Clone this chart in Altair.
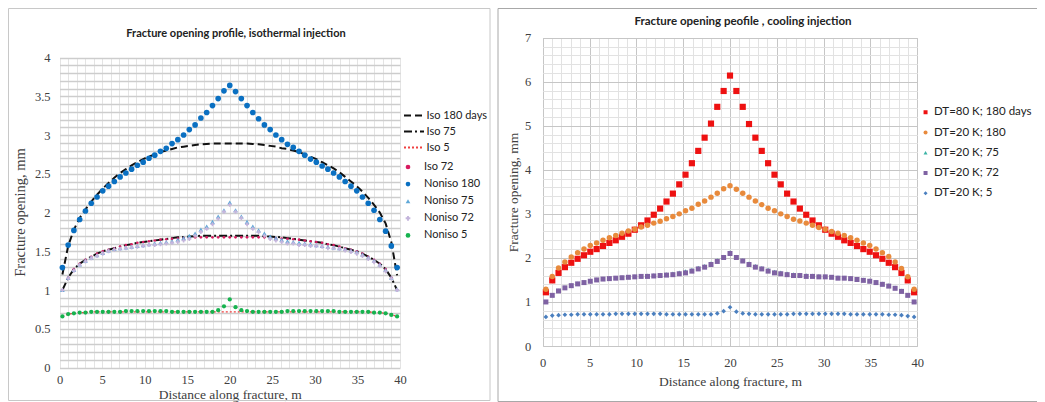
import altair as alt
import pandas as pd

# ---------------- data ----------------
# positions of the 59 cells along the fracture (m)
x_pos = [0.34, 1.02, 1.69, 2.37, 3.05, 3.73, 4.41, 5.08, 5.76, 6.44,
         7.12, 7.80, 8.47, 9.15, 9.83, 10.51, 11.19, 11.86, 12.54, 13.22,
         13.90, 14.58, 15.25, 15.93, 16.61, 17.29, 17.97, 18.64, 19.32, 20.00,
         20.68, 21.36, 22.03, 22.71, 23.39, 24.07, 24.75, 25.42, 26.10, 26.78,
         27.46, 28.14, 28.81, 29.49, 30.17, 30.85, 31.53, 32.20, 32.88, 33.56,
         34.24, 34.92, 35.59, 36.27, 36.95, 37.63, 38.31, 38.98, 39.66]

iso_180 = [1.20, 1.57, 1.78, 1.93, 2.04, 2.14, 2.23, 2.31, 2.38, 2.45,
           2.51, 2.56, 2.61, 2.65, 2.69, 2.72, 2.75, 2.78, 2.80, 2.82,
           2.84, 2.85, 2.86, 2.87, 2.88, 2.885, 2.89, 2.89, 2.89, 2.89,
           2.89, 2.89, 2.89, 2.885, 2.88, 2.87, 2.86, 2.85, 2.83, 2.82,
           2.80, 2.78, 2.75, 2.72, 2.69, 2.65, 2.61, 2.57, 2.52, 2.46,
           2.40, 2.34, 2.27, 2.19, 2.10, 2.00, 1.86, 1.62, 1.19]

iso_75 = [1.00, 1.16, 1.27, 1.34, 1.39, 1.43, 1.47, 1.50, 1.52, 1.54,
          1.56, 1.58, 1.59, 1.61, 1.62, 1.63, 1.64, 1.65, 1.66, 1.67,
          1.68, 1.685, 1.69, 1.695, 1.70, 1.70, 1.70, 1.70, 1.70, 1.70,
          1.70, 1.70, 1.70, 1.70, 1.70, 1.695, 1.69, 1.685, 1.68, 1.67,
          1.66, 1.65, 1.64, 1.63, 1.62, 1.61, 1.59, 1.58, 1.56, 1.54,
          1.52, 1.50, 1.47, 1.43, 1.39, 1.34, 1.27, 1.16, 1.00]

iso_5 = [0.66, 0.69, 0.70, 0.71, 0.71, 0.72, 0.72, 0.72, 0.72, 0.72,
         0.72, 0.72, 0.72, 0.72, 0.72, 0.72, 0.72, 0.72, 0.72, 0.72,
         0.72, 0.72, 0.72, 0.72, 0.72, 0.72, 0.72, 0.72, 0.72, 0.72,
         0.72, 0.72, 0.72, 0.72, 0.72, 0.72, 0.72, 0.72, 0.72, 0.72,
         0.72, 0.72, 0.72, 0.72, 0.72, 0.72, 0.72, 0.72, 0.72, 0.72,
         0.72, 0.72, 0.72, 0.72, 0.71, 0.71, 0.70, 0.68, 0.66]

iso_72 = [1.00, 1.16, 1.27, 1.34, 1.39, 1.43, 1.47, 1.50, 1.52, 1.54,
          1.56, 1.58, 1.59, 1.61, 1.62, 1.63, 1.64, 1.65, 1.655, 1.66,
          1.665, 1.67, 1.675, 1.68, 1.68, 1.68, 1.68, 1.68, 1.68, 1.68,
          1.68, 1.68, 1.68, 1.68, 1.68, 1.68, 1.675, 1.67, 1.665, 1.66,
          1.655, 1.65, 1.64, 1.63, 1.62, 1.61, 1.59, 1.58, 1.56, 1.54,
          1.52, 1.50, 1.47, 1.43, 1.39, 1.34, 1.27, 1.16, 1.00]

# non-isothermal / cooling (DT = 20 K) runs, shared by both panels
dt20_180 = [1.29, 1.58, 1.77, 1.91, 2.02, 2.12, 2.20, 2.28, 2.34, 2.40,
            2.46, 2.51, 2.56, 2.61, 2.65, 2.70, 2.74, 2.79, 2.83, 2.89,
            2.94, 3.00, 3.07, 3.13, 3.22, 3.29, 3.38, 3.47, 3.57, 3.64,
            3.56, 3.47, 3.38, 3.29, 3.21, 3.13, 3.07, 3.00, 2.94, 2.88,
            2.84, 2.79, 2.74, 2.69, 2.65, 2.60, 2.56, 2.51, 2.46, 2.40,
            2.34, 2.28, 2.20, 2.12, 2.03, 1.91, 1.76, 1.57, 1.29]

dt20_75 = [1.00, 1.16, 1.26, 1.33, 1.38, 1.42, 1.45, 1.48, 1.51, 1.53,
           1.54, 1.55, 1.56, 1.57, 1.58, 1.59, 1.60, 1.61, 1.62, 1.63,
           1.65, 1.67, 1.70, 1.73, 1.78, 1.82, 1.88, 1.95, 2.03, 2.13,
           2.03, 1.95, 1.88, 1.82, 1.77, 1.73, 1.69, 1.67, 1.65, 1.63,
           1.62, 1.61, 1.60, 1.59, 1.58, 1.57, 1.56, 1.55, 1.54, 1.53,
           1.51, 1.49, 1.46, 1.42, 1.38, 1.33, 1.26, 1.16, 1.01]

dt20_72 = [1.00, 1.15, 1.25, 1.32, 1.37, 1.41, 1.44, 1.47, 1.50, 1.52,
           1.53, 1.54, 1.55, 1.56, 1.57, 1.58, 1.58, 1.59, 1.60, 1.61,
           1.62, 1.64, 1.66, 1.70, 1.75, 1.79, 1.85, 1.92, 2.01, 2.10,
           2.01, 1.93, 1.85, 1.79, 1.75, 1.70, 1.66, 1.64, 1.62, 1.60,
           1.60, 1.58, 1.58, 1.57, 1.57, 1.56, 1.54, 1.54, 1.53, 1.51,
           1.49, 1.47, 1.44, 1.40, 1.36, 1.31, 1.24, 1.15, 1.00]

dt20_5 = [0.66, 0.69, 0.70, 0.71, 0.71, 0.72, 0.72, 0.72, 0.72, 0.72,
          0.72, 0.73, 0.73, 0.73, 0.73, 0.73, 0.73, 0.73, 0.73, 0.72,
          0.72, 0.72, 0.72, 0.72, 0.72, 0.72, 0.72, 0.74, 0.79, 0.88,
          0.78, 0.74, 0.73, 0.72, 0.72, 0.72, 0.72, 0.72, 0.72, 0.73,
          0.73, 0.73, 0.73, 0.73, 0.73, 0.73, 0.73, 0.73, 0.72, 0.72,
          0.72, 0.72, 0.72, 0.72, 0.71, 0.71, 0.70, 0.68, 0.66]

dt80_180 = [1.22, 1.49, 1.66, 1.79, 1.89, 1.98, 2.06, 2.14, 2.20, 2.27,
            2.34, 2.40, 2.48, 2.55, 2.64, 2.74, 2.85, 2.98, 3.12, 3.28,
            3.46, 3.67, 3.89, 4.15, 4.43, 4.73, 5.05, 5.43, 5.79, 6.14,
            5.79, 5.43, 5.04, 4.73, 4.43, 4.15, 3.89, 3.67, 3.46, 3.28,
            3.12, 2.98, 2.85, 2.74, 2.64, 2.55, 2.48, 2.40, 2.34, 2.27,
            2.20, 2.14, 2.06, 1.98, 1.89, 1.79, 1.66, 1.49, 1.22]

left_line_names = ["Iso 180 days", "Iso 75", "Iso 5"]
left_point_names = ["Iso 72", "Noniso 180", "Noniso 75", "Noniso 72", "Noniso 5"]
right_names = ["DT=80 K; 180 days", "DT=20 K; 180", "DT=20 K; 75", "DT=20 K; 72", "DT=20 K; 5"]

titles = ["Fracture opening profile, isothermal injection",
          "Fracture  opening peofile , cooling injection"]
x_title = "Distance along fracture, m"
y_title = "Fracture opening, mm"


def long_table(names, arrays):
    rows = []
    for k, (name, arr) in enumerate(zip(names, arrays)):
        assert len(arr) == len(x_pos)
        for xv, yv in zip(x_pos, arr):
            rows.append({"x": xv, "v": yv, "s": name, "o": k})
    return pd.DataFrame(rows)


ll_df = long_table(left_line_names, [iso_180, iso_75, iso_5])
lp_df = long_table(left_point_names, [iso_72, dt20_180, dt20_75, dt20_72, dt20_5])
r_df = long_table(right_names, [dt80_180, dt20_180, dt20_75, dt20_72, dt20_5])

# ---------------- layout (view coordinates) ----------------
W, H = 1029, 394
LX = [51.5, 392.0]
LY = [359.6, 49.5]
RX = [534.7, 909.3]
RY = [338.0, 29.7]

serif = "Liberation Serif"
sans = "Lato"
lab_col = "#404040"

x_ticks = list(range(41))
ly_ticks = [round(0.1 * i, 1) for i in range(41)]
ry_ticks = [round(0.2 * i, 1) for i in range(36)]


def sx(rng):
    return alt.Scale(domain=[0, 40], range=rng, nice=False, zero=False)


def sy(top, rng):
    return alt.Scale(domain=[0, top], range=rng, nice=False, zero=True)


def per_series(names, values, default):
    """Constant per-series style via a chain of conditions."""
    conds = [{"test": "datum.s === '%s'" % n, "value": v} for n, v in zip(names, values)]
    return {"condition": conds, "value": default}


def grid_x(color):
    return alt.Axis(orient="top", values=x_ticks, grid=True, gridColor=color, gridWidth=1,
                    labels=False, ticks=False, domain=False, title=None)


def label_x(offset, size, pad, title_y, cx):
    return alt.Axis(orient="bottom", offset=offset, values=x_ticks, grid=False,
                    ticks=False, tickSize=0, domain=False, labelOverlap=False, labelFlush=False,
                    labelExpr="datum.value % 5 === 0 ? format(datum.value, 'd') : ''",
                    labelFont=serif, labelFontSize=12.5, labelColor=lab_col, labelPadding=pad,
                    title=x_title, titleFont=serif, titleFontSize=size, titleFontWeight="normal",
                    titleColor=lab_col, titleX=cx, titleY=title_y,
                    titleAlign="center", titleBaseline="middle")


left_y_axis = alt.Axis(
    orient="left", offset=-LX[0], values=ly_ticks, grid=True, gridColor="#cdcdcd", gridWidth=1.3,
    ticks=False, tickSize=0, domain=False, labelOverlap=False, labelFlush=False,
    labelExpr="abs(datum.value*2 - round(datum.value*2)) < 0.01 ? format(datum.value, '.1~f') : ''",
    labelFont=serif, labelFontSize=12.5, labelColor=lab_col, labelPadding=9.5,
    title=y_title, titleFont=serif, titleFontSize=14.5, titleFontWeight="normal", titleColor=lab_col,
    titleX=12 - LX[0], titleY=204, titleAngle=270, titleAlign="center", titleBaseline="middle")

right_y_axis = alt.Axis(
    orient="left", offset=-RX[0], values=ry_ticks, grid=True,
    gridColor={"condition": {"test": "abs(datum.value - round(datum.value)) < 0.01", "value": "#c6c6c6"},
               "value": "#e2e2e2"},
    gridWidth=1,
    ticks=False, tickSize=0, domain=False, labelOverlap=False, labelFlush=False,
    labelExpr="abs(datum.value - round(datum.value)) < 0.01 ? format(datum.value, 'd') : ''",
    labelFont=serif, labelFontSize=12.5, labelColor=lab_col, labelPadding=12,
    title=y_title, titleFont=serif, titleFontSize=13.5, titleFontWeight="normal", titleColor=lab_col,
    titleX=505 - RX[0], titleY=184, titleAngle=270, titleAlign="center", titleBaseline="middle")

right_grid_x = alt.Axis(
    orient="top", values=x_ticks, grid=True,
    gridColor={"condition": {"test": "datum.value % 5 === 0", "value": "#c6c6c6"}, "value": "#e2e2e2"},
    gridWidth=1, labels=False, ticks=False, domain=False, title=None)

leg_lines = alt.Legend(orient="none", legendX=395, legendY=96.5, title=None, padding=0,
                       labelFont=sans, labelFontSize=11, labelColor="#222222",
                       symbolType="stroke", symbolSize=400, symbolStrokeWidth=2,
                       labelOffset=1.5, rowPadding=-0.5)
leg_pts = alt.Legend(orient="none", legendX=394.5, legendY=153.5, title=None, padding=0,
                     labelFont=sans, labelFontSize=11, labelColor="#222222",
                     symbolSize=22, labelOffset=10.5, rowPadding=5.1)
leg_right = alt.Legend(orient="none", legendX=911.8, legendY=98.5, title=None, padding=0,
                       labelFont=sans, labelFontSize=11.5, labelColor="#222222",
                       symbolSize=16, labelOffset=2.7, rowPadding=7.25)

one = pd.DataFrame({"k": [0]})

frame_l = alt.Chart(one).mark_rect(fillOpacity=0, stroke="#c8c8c8", strokeWidth=1).encode(
    x=alt.value(0.5), x2=alt.value(482), y=alt.value(0.5), y2=alt.value(H - 1.5))
frame_r = alt.Chart(one).mark_rect(fillOpacity=0, stroke="#a8a8a8", strokeWidth=1).encode(
    x=alt.value(490), x2=alt.value(1040), y=alt.value(0.5), y2=alt.value(H - 0.5))

left_lines = alt.Chart(ll_df).mark_line().encode(
    x=alt.X("x:Q", scale=sx(LX), axis=grid_x("#e4e4e4")),
    y=alt.Y("v:Q", scale=sy(4, LY), axis=left_y_axis),
    color=alt.Color("s:N", scale=alt.Scale(domain=left_line_names,
                                           range=["#111111", "#111111", "#f04040"]),
                    legend=leg_lines),
    strokeDash=alt.StrokeDash("s:N", scale=alt.Scale(domain=left_line_names,
                                                     range=[[7, 4], [8, 3, 2, 3], [2, 2]]),
                              legend=leg_lines),
    strokeWidth=per_series(["Iso 5"], [1.3], 2),
)

left_pts = alt.Chart(lp_df).mark_point(filled=True, opacity=1).encode(
    x=alt.X("x:Q", scale=sx(LX), axis=label_x(LY[0] - H, 13.5, 5.5, 26.5, (LX[0] + LX[1]) / 2)),
    y=alt.Y("v:Q", scale=sy(4, LY), axis=None),
    color=alt.Color("s:N", scale=alt.Scale(domain=left_point_names,
                                           range=["#d81b60", "#0a70c2", "#5fa8d8", "#c4b5dc", "#16b34f"]),
                    legend=leg_pts),
    shape=alt.Shape("s:N", scale=alt.Scale(domain=left_point_names,
                                           range=["circle", "circle", "triangle-up", "cross", "circle"]),
                    legend=leg_pts),
    size=per_series(left_point_names, [7, 32, 22, 16, 18], 20),
)

right_pts = alt.Chart(r_df).mark_point(filled=True, opacity=1).encode(
    x=alt.X("x:Q", scale=sx(RX), axis=right_grid_x),
    y=alt.Y("v:Q", scale=sy(7, RY), axis=right_y_axis),
    color=alt.Color("s:N", scale=alt.Scale(domain=right_names,
                                           range=["#ee1111", "#e88a3c", "#3cb4a6", "#7f62a3", "#4a7fbf"]),
                    legend=leg_right),
    shape=alt.Shape("s:N", scale=alt.Scale(domain=right_names,
                                           range=["square", "circle", "triangle-up", "square", "diamond"]),
                    legend=leg_right),
    size=per_series(right_names, [38, 30, 20, 25, 22], 25),
)

right_axis = alt.Chart(r_df).mark_point(opacity=0).encode(
    x=alt.X("x:Q", scale=sx(RX), axis=label_x(RY[0] - H, 13.5, 10, 35, (RX[0] + RX[1]) / 2)),
    y=alt.Y("v:Q", scale=sy(7, RY), axis=None),
)

title_l = alt.Chart(pd.DataFrame({"t": [titles[0]]})).mark_text(
    font=sans, fontSize=11, fontWeight="bold", color="#222222", align="center", baseline="middle"
).encode(x=alt.value(228), y=alt.value(26.3), text="t:N")
title_r = alt.Chart(pd.DataFrame({"t": [titles[1]]})).mark_text(
    font=sans, fontSize=11.5, fontWeight="bold", color="#222222", align="center", baseline="middle"
).encode(x=alt.value(735), y=alt.value(14.3), text="t:N")

chart = alt.layer(
    frame_l, frame_r, left_lines, left_pts, right_pts, right_axis, title_l, title_r
).resolve_scale(
    x="independent", y="independent", color="independent", shape="independent",
    strokeDash="independent"
).properties(
    width=W, height=H, padding=0, autosize=alt.AutoSizeParams(type="none"), background="white"
).configure_view(strokeWidth=0)

chart.save("out.html", embed_options={"renderer": "svg", "actions": False})
